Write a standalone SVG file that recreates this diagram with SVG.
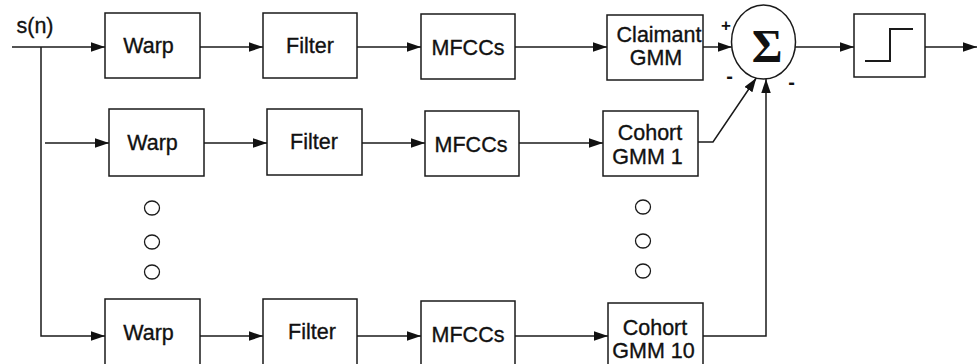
<svg xmlns="http://www.w3.org/2000/svg" width="977" height="364" viewBox="0 0 977 364">
<defs>
<style>
.box{fill:#fff;stroke:#1a1a1a;stroke-width:1.5}
.ln{fill:none;stroke:#1a1a1a;stroke-width:1.5}
.arr{marker-end:url(#ah)}
.t{font-family:"Liberation Sans",Arial,Helvetica,sans-serif;font-size:21.5px;fill:#111;stroke:#111;stroke-width:0.35;text-anchor:middle}
.dot{fill:#fff;stroke:#1a1a1a;stroke-width:1.3}
.sign{font-family:"Liberation Sans",Arial,sans-serif;font-weight:bold;fill:#111;text-anchor:middle}
</style>
<marker id="ah" markerUnits="userSpaceOnUse" markerWidth="15" markerHeight="10" refX="14" refY="4.75" orient="auto">
<path d="M0,0 L14,4.75 L0,9.5 z" fill="#111"/>
</marker>
</defs>
<rect width="977" height="364" fill="#fff"/>

<text class="t" x="35" y="33">s(n)</text>

<g id="connectors">
<path class="ln arr" d="M12,47 H105"/>
<path class="ln arr" d="M41,47 V336 H105"/>
<path class="ln arr" d="M200,47 H263"/>
<path class="ln arr" d="M357,47 H421"/>
<path class="ln arr" d="M515,47 H607"/>
<path class="ln arr" d="M703,47 H731.8"/>
<path class="ln arr" d="M795,47 H854"/>
<path class="ln arr" d="M925,47 H977"/>
<path class="ln arr" d="M45,143 H109"/>
<path class="ln arr" d="M204,143 H267"/>
<path class="ln arr" d="M362,143 H425"/>
<path class="ln arr" d="M519,143 H603"/>
<path class="ln arr" d="M698,142 H713 L756.3,78"/>
<path class="ln arr" d="M200,336 H263"/>
<path class="ln arr" d="M357,336 H421"/>
<path class="ln arr" d="M515,336 H608"/>
<path class="ln arr" d="M703,336 H766 V79"/>
</g>

<g id="warp1"><rect class="box" x="105" y="13" width="95" height="65"/><text class="t" x="148.5" y="53">Warp</text></g>
<g id="filter1"><rect class="box" x="263" y="13" width="94" height="65"/><text class="t" x="310" y="53">Filter</text></g>
<g id="mfcc1"><rect class="box" x="421" y="14" width="94" height="65"/><text class="t" x="468" y="55">MFCCs</text></g>
<g id="claimant"><rect class="box" x="607" y="15" width="96" height="65"/><text class="t" x="659" y="42">Claimant</text><text class="t" x="656" y="65">GMM</text></g>
<g id="sum"><ellipse class="box" cx="763.5" cy="42" rx="32" ry="37"/><text x="767" y="62" font-family="'Liberation Serif','Times New Roman',serif" font-weight="bold" font-size="47" text-anchor="middle" fill="#111">Σ</text></g>
<g id="signs"><text class="sign" x="726" y="31" font-size="17">+</text><text class="sign" x="729.5" y="83" font-size="20">-</text><text class="sign" x="791.5" y="89" font-size="20">-</text></g>
<g id="threshold"><rect class="box" x="854" y="14" width="71" height="63"/><path class="ln" style="stroke-width:2" d="M865,61 H890 V29 H913"/></g>

<g id="warp2"><rect class="box" x="109" y="109" width="95" height="67"/><text class="t" x="152.5" y="150">Warp</text></g>
<g id="filter2"><rect class="box" x="267" y="109" width="95" height="66"/><text class="t" x="314" y="149">Filter</text></g>
<g id="mfcc2"><rect class="box" x="425" y="111" width="94" height="65"/><text class="t" x="471" y="152">MFCCs</text></g>
<g id="cohort1"><rect class="box" x="603" y="111" width="95" height="65"/><text class="t" x="650" y="140">Cohort</text><text class="t" x="647.5" y="164">GMM 1</text></g>

<g id="dots-left"><ellipse class="dot" cx="152" cy="208" rx="7.5" ry="7"/><ellipse class="dot" cx="152" cy="242" rx="7.5" ry="7"/><ellipse class="dot" cx="152" cy="272" rx="7.5" ry="7"/></g>
<g id="dots-right"><ellipse class="dot" cx="643" cy="207" rx="7.5" ry="7"/><ellipse class="dot" cx="643" cy="241" rx="7.5" ry="7"/><ellipse class="dot" cx="643" cy="271" rx="7.5" ry="7"/></g>

<g id="warp3"><rect class="box" x="105" y="299" width="95" height="70"/><text class="t" x="148.5" y="340">Warp</text></g>
<g id="filter3"><rect class="box" x="263" y="299" width="94" height="70"/><text class="t" x="312" y="339">Filter</text></g>
<g id="mfcc3"><rect class="box" x="421" y="301" width="94" height="70"/><text class="t" x="468" y="342">MFCCs</text></g>
<g id="cohort10"><rect class="box" x="608" y="303" width="95" height="70"/><text class="t" x="655" y="335">Cohort</text><text class="t" x="653.5" y="358">GMM 10</text></g>
</svg>
